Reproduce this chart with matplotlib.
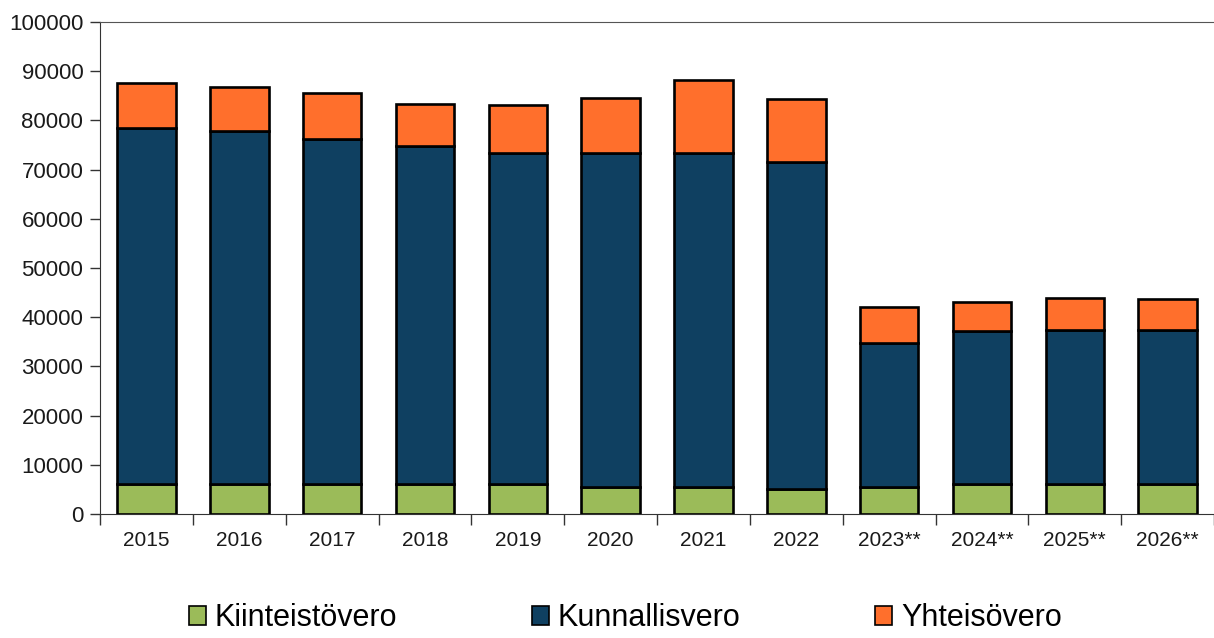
import numpy as np
import matplotlib.pyplot as plt

# ============================== Data ==============================
years = ['2015', '2016', '2017', '2018', '2019', '2020', '2021', '2022',
         '2023**', '2024**', '2025**', '2026**']
kiinteistovero = [6000, 6000, 6000, 6000, 6000, 5500, 5500, 5000, 5500, 6000, 6000, 6000]
kunnallisvero = [72500, 71800, 70200, 68800, 67400, 67900, 67900, 66500, 29300, 31200, 31400, 31400]
yhteisovero = [9100, 9000, 9400, 8500, 9700, 11200, 14800, 12800, 7300, 5900, 6500, 6300]

c_green = '#9BBB59'
c_navy = '#0F4061'
c_orange = '#FF6F2C'

plt.rcParams['font.family'] = ['Liberation Sans', 'DejaVu Sans']

# ============================== Plot ==============================
fig = plt.figure(figsize=(12.14, 6.38), dpi=100)
ax = fig.add_axes([0.0824, 0.1944, 0.9176, 0.7711])

x = np.arange(len(years))
w = 0.63
k = np.array(kiinteistovero)
ku = np.array(kunnallisvero)
y = np.array(yhteisovero)

ax.bar(x, k, w, color=c_green, edgecolor='black', linewidth=1.9, label='Kiinteistövero', zorder=3)
ax.bar(x, ku, w, bottom=k, color=c_navy, edgecolor='black', linewidth=1.9, label='Kunnallisvero', zorder=3)
ax.bar(x, y, w, bottom=k + ku, color=c_orange, edgecolor='black', linewidth=1.9, label='Yhteisövero', zorder=3)

ax.set_xlim(-0.5, len(years) - 0.5)
ax.set_ylim(0, 100000)
ax.set_yticks(np.arange(0, 100001, 10000))
ax.tick_params(axis='y', labelsize=16, length=7, width=1, colors='#333333', labelcolor='#1a1a1a', pad=5)

# ticks between categories, labels at centers
ax.set_xticks(np.arange(-0.5, len(years), 1.0))
ax.set_xticklabels([])
ax.set_xticks(x, minor=True)
ax.set_xticklabels(years, minor=True, fontsize=15, color='#1a1a1a')
ax.tick_params(axis='x', which='major', length=8, width=1, direction='out', colors='#333333')
ax.tick_params(axis='x', which='minor', length=0, pad=12)

ax.spines['right'].set_visible(False)
ax.spines['top'].set_color('#555555')
ax.spines['left'].set_color('#333333')
ax.spines['bottom'].set_color('#333333')

leg = fig.legend(loc='lower center', bbox_to_anchor=(0.515, -0.036), ncol=3, frameon=False,
                 fontsize=22, handlelength=0.55, handleheight=0.55, handletextpad=0.3,
                 columnspacing=4.4)
for p in leg.get_patches():
    p.set_linewidth(1.2)

fig.savefig('out.png', dpi=100)
